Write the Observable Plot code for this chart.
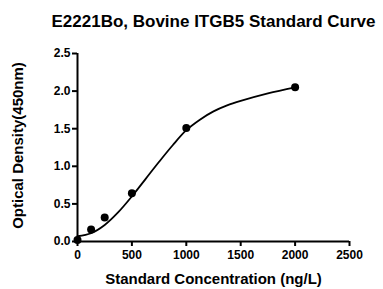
<!DOCTYPE html>
<html><head><meta charset="utf-8">
<script src="https://cdn.jsdelivr.net/npm/d3@7"></script>
<script src="https://cdn.jsdelivr.net/npm/@observablehq/plot@0.6"></script>
<style>body{margin:0;background:#fff;} svg{font-family:"Liberation Sans",Arial,sans-serif;}</style>
</head><body><div id="chart"></div>
<script>
const title = "E2221Bo, Bovine ITGB5 Standard Curve";
const xLabel = "Standard Concentration (ng/L)";
const yLabel = "Optical Density(450nm)";
const xTicks = [0, 500, 1000, 1500, 2000, 2500];
const yTicks = [0, 0.5, 1.0, 1.5, 2.0, 2.5];
const conc = [0, 125, 250, 500, 1000, 2000];
const od = [0.02, 0.16, 0.32, 0.64, 1.51, 2.05];
const curveX = [0, 125, 250, 375, 500, 625, 750, 875, 1000, 1125, 1250, 1375, 1500, 1750, 2000];
const curveY = [0.07, 0.11, 0.22, 0.39, 0.60, 0.83, 1.06, 1.28, 1.48, 1.62, 1.73, 1.81, 1.87, 1.97, 2.05];

const points = conc.map((x, i) => ({x, y: od[i]}));
const curve = curveX.map((x, i) => ({x, y: curveY[i]}));

const plot = Plot.plot({
  width: 383, height: 289,
  marginLeft: 77, marginRight: 34, marginTop: 53, marginBottom: 48,
  style: {fontFamily: "Liberation Sans, Arial, sans-serif", background: "#fff", overflow: "visible", color: "black"},
  x: {domain: [0, 2500]},
  y: {domain: [0, 2.5]},
  marks: [
    Plot.line(curve, {x: "x", y: "y", curve: "catmull-rom", stroke: "black", strokeWidth: 1.8}),
    Plot.dot(points, {x: "x", y: "y", r: 4, fill: "black"}),
    Plot.ruleX([0], {stroke: "black", strokeWidth: 2}),
    Plot.ruleY([0], {stroke: "black", strokeWidth: 2}),
    Plot.axisX({ticks: xTicks, tickSize: 5, tickPadding: 4, strokeWidth: 2, fontSize: 12, fontWeight: "bold", label: null, tickFormat: d => String(d)}),
    Plot.axisY({ticks: yTicks, tickSize: 5, tickPadding: 2, strokeWidth: 2, fontSize: 12, fontWeight: "bold", label: null, tickFormat: d => d.toFixed(1)}),
    Plot.text([xLabel], {frameAnchor: "bottom", lineAnchor: "middle", dy: 38, fontSize: 15, fontWeight: "bold", fill: "black"}),
    Plot.text([yLabel], {frameAnchor: "left", textAnchor: "middle", lineAnchor: "middle", dx: -59, dy: -2, rotate: -90, fontSize: 15, fontWeight: "bold", fill: "black"}),
    Plot.text([title], {frameAnchor: "top", lineAnchor: "middle", dx: 0, dy: -31.5, fontSize: 17, fontWeight: "bold", fill: "black"})
  ]
});
document.getElementById("chart").appendChild(plot);
</script></body></html>
